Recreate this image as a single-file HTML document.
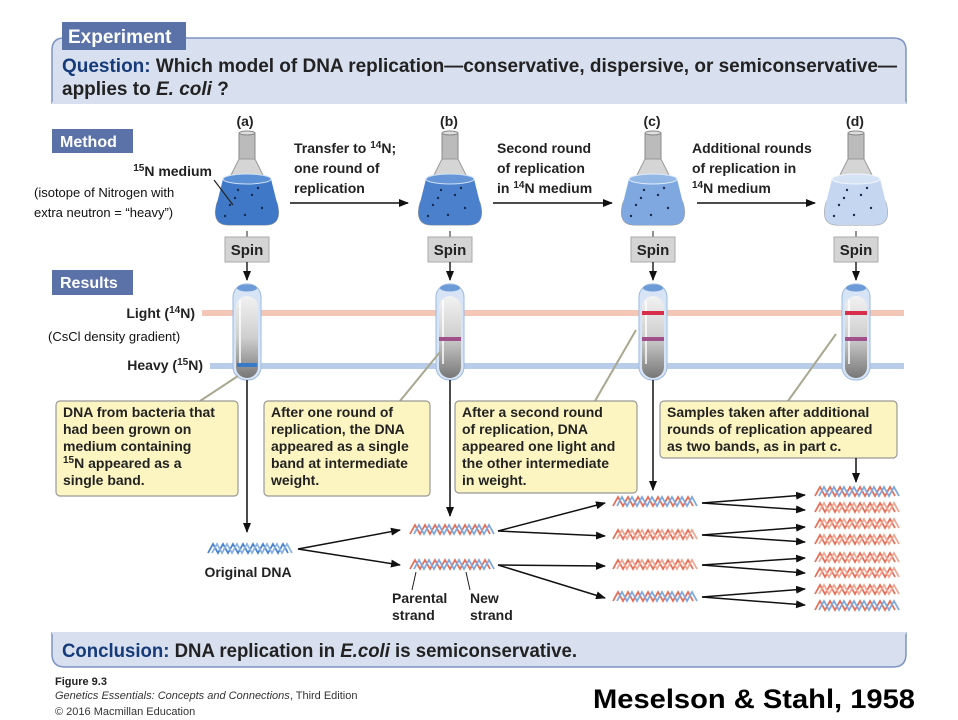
<!DOCTYPE html>
<html><head><meta charset="utf-8"><style>
body{margin:0;background:#fff;width:958px;height:720px;overflow:hidden}
svg{display:block}
text{font-family:"Liberation Sans",sans-serif}
.b{font-weight:bold;font-size:14px;fill:#222}
</style></head><body>
<svg width="958" height="720" viewBox="0 0 958 720" xmlns="http://www.w3.org/2000/svg">
<defs>
<marker id="ar" markerWidth="10" markerHeight="8" refX="9" refY="4" orient="auto" markerUnits="userSpaceOnUse"><path d="M0,0 L10,4 L0,8z" fill="#111"/></marker>
<g id="zz"><path d="M0,10 l5,-9 l5,9 l5,-9 l5,9 l5,-9 l5,9 l5,-9 l5,9 l5,-9 l5,9 l5,-9 l5,9 l5,-9 l5,9 l5,-9 l5,9" fill="none" stroke-width="1.8"/></g>
<g id="dB"><use href="#zz" stroke="#4a84cc"/><use href="#zz" x="4" stroke="#8db3e2"/></g>
<g id="dH"><use href="#zz" stroke="#e4705a"/><use href="#zz" x="4" stroke="#7fa9de"/></g>
<g id="dL"><use href="#zz" stroke="#e4705a"/><use href="#zz" x="4" stroke="#f0a894"/></g>
<linearGradient id="tg" x1="0" y1="0" x2="0" y2="1"><stop offset="0" stop-color="#f2f2f2"/><stop offset="0.5" stop-color="#cfcfcf"/><stop offset="1" stop-color="#777"/></linearGradient>
<g id="flask">
<rect x="-8" y="0" width="16" height="26" fill="#bbb" stroke="#888"/>
<ellipse cx="0" cy="0" rx="8" ry="2" fill="#ddd" stroke="#888"/>
<path d="M-8,26 L-30,70 Q-36,92 -18,92 L18,92 Q36,92 30,70 L8,26z" fill="#d5d5d5" stroke="#999"/>
</g>
<g id="tube">
<rect x="-14" y="0" width="28" height="96" rx="13" fill="#d6e4f5" stroke="#9bb8dd"/>
<rect x="-11" y="12" width="22" height="82" rx="11" fill="url(#tg)"/>
<ellipse cx="0" cy="4" rx="10" ry="3.5" fill="#6d9bd8"/>
<line x1="-7" y1="16" x2="-7" y2="80" stroke="#fff" stroke-width="1.5"/>
</g>
<path id="liq" d="M-24,46 L-30,70 Q-36,92 -18,92 L18,92 Q36,92 30,70 L24,46z"/>
</defs>

<!-- header -->
<path d="M52,103 L52,50 Q52,38 64,38 L893,38 Q906,38 906,50 L906,103z" fill="#d8dfef" stroke="#7d94c4" stroke-width="1.5"/>
<line x1="52" y1="103" x2="906" y2="103" stroke="#d8dfef" stroke-width="2"/>
<rect x="62" y="22" width="124" height="28" fill="#5b72a8"/>
<text x="68" y="43" font-size="19" font-weight="bold" fill="#fff">Experiment</text>
<text x="62" y="72" font-size="19" font-weight="bold" fill="#222" textLength="835" lengthAdjust="spacingAndGlyphs"><tspan fill="#163b7a">Question:</tspan> Which model of DNA replication—conservative, dispersive, or semiconservative—</text>
<text x="62" y="95" font-size="19" font-weight="bold" fill="#222">applies to <tspan font-style="italic">E. coli</tspan> ?</text>

<rect x="52" y="129" width="81" height="24" fill="#5b72a8"/>
<text x="60" y="147" font-size="16" font-weight="bold" fill="#fff">Method</text>
<rect x="52" y="270" width="81" height="25" fill="#5b72a8"/>
<text x="60" y="288" font-size="16" font-weight="bold" fill="#fff">Results</text>

<text x="245" y="126" class="b" text-anchor="middle">(a)</text>
<text x="449" y="126" class="b" text-anchor="middle">(b)</text>
<text x="652" y="126" class="b" text-anchor="middle">(c)</text>
<text x="855" y="126" class="b" text-anchor="middle">(d)</text>

<!-- flasks -->
<g transform="translate(247,133)"><use href="#flask"/><use href="#liq" fill="#3f78c6"/><ellipse cx="0" cy="46" rx="24" ry="5" fill="#5b8fd6" stroke="#cfe0f5"/></g>
<g transform="translate(450,133)"><use href="#flask"/><use href="#liq" fill="#4a80cc"/><ellipse cx="0" cy="46" rx="24" ry="5" fill="#6696d8" stroke="#cfe0f5"/></g>
<g transform="translate(653,133)"><use href="#flask"/><use href="#liq" fill="#7fa7e0"/><ellipse cx="0" cy="46" rx="24" ry="5" fill="#94b8e6" stroke="#e0ecfa"/></g>
<g transform="translate(856,133)"><use href="#flask"/><use href="#liq" fill="#c4d6f0"/><ellipse cx="0" cy="46" rx="24" ry="5" fill="#d6e3f5" stroke="#f0f5fc"/></g>
<g fill="#1a2a4a">
<circle cx="238" cy="190" r="1.2"/><circle cx="252" cy="195" r="1.2"/><circle cx="230" cy="205" r="1.2"/><circle cx="262" cy="208" r="1.2"/><circle cx="245" cy="215" r="1.2"/><circle cx="225" cy="216" r="1.2"/><circle cx="258" cy="188" r="1.2"/><circle cx="235" cy="198" r="1.2"/>
<circle cx="441" cy="190" r="1.2"/><circle cx="455" cy="195" r="1.2"/><circle cx="433" cy="205" r="1.2"/><circle cx="465" cy="208" r="1.2"/><circle cx="448" cy="215" r="1.2"/><circle cx="428" cy="216" r="1.2"/><circle cx="461" cy="188" r="1.2"/><circle cx="438" cy="198" r="1.2"/>
<circle cx="644" cy="190" r="1.2"/><circle cx="658" cy="195" r="1.2"/><circle cx="636" cy="205" r="1.2"/><circle cx="668" cy="208" r="1.2"/><circle cx="651" cy="215" r="1.2"/><circle cx="631" cy="216" r="1.2"/><circle cx="664" cy="188" r="1.2"/><circle cx="641" cy="198" r="1.2"/>
<circle cx="847" cy="190" r="1.2"/><circle cx="861" cy="195" r="1.2"/><circle cx="839" cy="205" r="1.2"/><circle cx="871" cy="208" r="1.2"/><circle cx="854" cy="215" r="1.2"/><circle cx="834" cy="216" r="1.2"/><circle cx="867" cy="188" r="1.2"/><circle cx="844" cy="198" r="1.2"/>
</g>

<text x="212" y="176" class="b" text-anchor="end"><tspan font-size="10" dy="-5">15</tspan><tspan dy="5">N medium</tspan></text>
<line x1="214" y1="180" x2="233" y2="205" stroke="#222" stroke-width="1.2"/>
<text x="34" y="197" font-size="13" fill="#111">(isotope of Nitrogen with</text>
<text x="34" y="217" font-size="13" fill="#111">extra neutron = “heavy”)</text>

<text x="294" y="153" class="b"><tspan>Transfer to </tspan><tspan font-size="10" dy="-5">14</tspan><tspan dy="5">N;</tspan></text>
<text x="294" y="173" class="b">one round of</text>
<text x="294" y="193" class="b">replication</text>
<line x1="290" y1="203" x2="408" y2="203" stroke="#111" stroke-width="1.5" marker-end="url(#ar)"/>
<text x="497" y="153" class="b">Second round</text>
<text x="497" y="173" class="b">of replication</text>
<text x="497" y="193" class="b">in <tspan font-size="10" dy="-5">14</tspan><tspan dy="5">N medium</tspan></text>
<line x1="493" y1="203" x2="612" y2="203" stroke="#111" stroke-width="1.5" marker-end="url(#ar)"/>
<text x="692" y="153" class="b">Additional rounds</text>
<text x="692" y="173" class="b">of replication in</text>
<text x="692" y="193" class="b"><tspan font-size="10" dy="-5">14</tspan><tspan dy="5">N medium</tspan></text>
<line x1="697" y1="203" x2="815" y2="203" stroke="#111" stroke-width="1.5" marker-end="url(#ar)"/>

<g font-size="15" font-weight="bold" fill="#222" text-anchor="middle">
<line x1="247" y1="231" x2="247" y2="237" stroke="#222"/><rect x="225" y="237" width="44" height="25" fill="#d4d4d4" stroke="#aaa"/><text x="247" y="255">Spin</text><line x1="247" y1="262" x2="247" y2="280" stroke="#222" stroke-width="1.5" marker-end="url(#ar)"/>
<line x1="450" y1="231" x2="450" y2="237" stroke="#222"/><rect x="428" y="237" width="44" height="25" fill="#d4d4d4" stroke="#aaa"/><text x="450" y="255">Spin</text><line x1="450" y1="262" x2="450" y2="280" stroke="#222" stroke-width="1.5" marker-end="url(#ar)"/>
<line x1="653" y1="231" x2="653" y2="237" stroke="#222"/><rect x="631" y="237" width="44" height="25" fill="#d4d4d4" stroke="#aaa"/><text x="653" y="255">Spin</text><line x1="653" y1="262" x2="653" y2="280" stroke="#222" stroke-width="1.5" marker-end="url(#ar)"/>
<line x1="856" y1="231" x2="856" y2="237" stroke="#222"/><rect x="834" y="237" width="44" height="25" fill="#d4d4d4" stroke="#aaa"/><text x="856" y="255">Spin</text><line x1="856" y1="262" x2="856" y2="280" stroke="#222" stroke-width="1.5" marker-end="url(#ar)"/>
</g>

<rect x="202" y="310" width="702" height="6" fill="#f4c6b8"/>
<rect x="210" y="363" width="694" height="6" fill="#b9cdea"/>
<text x="195" y="318" class="b" text-anchor="end"><tspan>Light (</tspan><tspan font-size="10" dy="-5">14</tspan><tspan dy="5">N)</tspan></text>
<text x="48" y="341" font-size="13" fill="#111">(CsCl density gradient)</text>
<text x="203" y="370" class="b" text-anchor="end"><tspan>Heavy (</tspan><tspan font-size="10" dy="-5">15</tspan><tspan dy="5">N)</tspan></text>

<g transform="translate(247,284)"><use href="#tube"/></g>
<g transform="translate(450,284)"><use href="#tube"/></g>
<g transform="translate(653,284)"><use href="#tube"/></g>
<g transform="translate(856,284)"><use href="#tube"/></g>
<rect x="237" y="363" width="20" height="4" fill="#3a78c8"/>
<rect x="439" y="337" width="22" height="4" fill="#a0508a"/>
<rect x="642" y="311" width="22" height="4" fill="#d8304a"/><rect x="642" y="337" width="22" height="4" fill="#a0508a"/>
<rect x="845" y="311" width="22" height="4" fill="#d8304a"/><rect x="845" y="337" width="22" height="4" fill="#a0508a"/>

<g stroke="#a8a890" stroke-width="2">
<line x1="238" y1="376" x2="200" y2="401"/>
<line x1="440" y1="352" x2="400" y2="401"/>
<line x1="636" y1="330" x2="595" y2="401"/>
<line x1="836" y1="334" x2="788" y2="401"/>
</g>

<g fill="#fcf5c2" stroke="#999" stroke-width="1.2">
<rect x="56" y="401" width="182" height="95" rx="4"/>
<rect x="264" y="401" width="166" height="95" rx="4"/>
<rect x="455" y="401" width="182" height="92" rx="4"/>
<rect x="660" y="401" width="237" height="57" rx="4"/>
</g>
<g class="b">
<text x="63" y="417" class="b">DNA from bacteria that</text>
<text x="63" y="434" class="b">had been grown on</text>
<text x="63" y="451" class="b">medium containing</text>
<text x="63" y="468" class="b"><tspan font-size="10" dy="-5">15</tspan><tspan dy="5">N appeared as a</tspan></text>
<text x="63" y="485" class="b">single band.</text>
<text x="271" y="417" class="b">After one round of</text>
<text x="271" y="434" class="b">replication, the DNA</text>
<text x="271" y="451" class="b">appeared as a single</text>
<text x="271" y="468" class="b">band at intermediate</text>
<text x="271" y="485" class="b">weight.</text>
<text x="462" y="417" class="b">After a second round</text>
<text x="462" y="434" class="b">of replication, DNA</text>
<text x="462" y="451" class="b">appeared one light and</text>
<text x="462" y="468" class="b">the other intermediate</text>
<text x="462" y="485" class="b">in weight.</text>
<text x="667" y="417" class="b">Samples taken after additional</text>
<text x="667" y="434" class="b">rounds of replication appeared</text>
<text x="667" y="451" class="b">as two bands, as in part c.</text>
</g>

<g stroke="#111" stroke-width="1.5" marker-end="url(#ar)">
<line x1="247" y1="380" x2="247" y2="532"/>
<line x1="450" y1="380" x2="450" y2="516"/>
<line x1="653" y1="380" x2="653" y2="490"/>
<line x1="856" y1="458" x2="856" y2="482"/>
</g>

<use href="#dB" x="208" y="543"/>
<text x="248" y="577" class="b" text-anchor="middle">Original DNA</text>
<use href="#dH" x="410" y="524"/>
<use href="#dH" x="410" y="559"/>
<line x1="416" y1="572" x2="412" y2="590" stroke="#222"/>
<line x1="466" y1="572" x2="470" y2="590" stroke="#222"/>
<text x="392" y="603" class="b">Parental</text><text x="392" y="620" class="b">strand</text>
<text x="470" y="603" class="b">New</text><text x="470" y="620" class="b">strand</text>
<use href="#dH" x="613" y="496"/>
<use href="#dL" x="613" y="529"/>
<use href="#dL" x="613" y="559"/>
<use href="#dH" x="613" y="591"/>
<use href="#dH" x="815" y="486"/>
<use href="#dL" x="815" y="502"/>
<use href="#dL" x="815" y="518"/>
<use href="#dL" x="815" y="534"/>
<use href="#dL" x="815" y="552"/>
<use href="#dL" x="815" y="567"/>
<use href="#dL" x="815" y="584"/>
<use href="#dH" x="815" y="600"/>

<g stroke="#111" stroke-width="1.5" marker-end="url(#ar)" fill="none">
<line x1="298" y1="549" x2="400" y2="530"/><line x1="298" y1="549" x2="400" y2="565"/>
<line x1="498" y1="531" x2="605" y2="503"/><line x1="498" y1="531" x2="605" y2="536"/>
<line x1="498" y1="565" x2="605" y2="566"/><line x1="498" y1="565" x2="605" y2="598"/>
<line x1="702" y1="503" x2="805" y2="495"/><line x1="702" y1="503" x2="805" y2="510"/>
<line x1="702" y1="535" x2="805" y2="527"/><line x1="702" y1="535" x2="805" y2="542"/>
<line x1="702" y1="565" x2="805" y2="558"/><line x1="702" y1="565" x2="805" y2="573"/>
<line x1="702" y1="597" x2="805" y2="589"/><line x1="702" y1="597" x2="805" y2="605"/>
</g>

<path d="M52,633 L906,633 L906,654 Q906,667 893,667 L65,667 Q52,667 52,654z" fill="#d8dfef" stroke="#7d94c4" stroke-width="1.5"/>
<line x1="52" y1="633" x2="906" y2="633" stroke="#d8dfef" stroke-width="2"/>
<text x="62" y="657" font-size="19" font-weight="bold" fill="#222" textLength="515" lengthAdjust="spacingAndGlyphs"><tspan fill="#163b7a">Conclusion:</tspan> DNA replication in <tspan font-style="italic">E.coli</tspan> is semiconservative.</text>

<text x="55" y="685" font-size="11" font-weight="bold" fill="#222">Figure 9.3</text>
<text x="55" y="699" font-size="11" fill="#333"><tspan font-style="italic">Genetics Essentials: Concepts and Connections</tspan>, Third Edition</text>
<text x="55" y="715" font-size="11" fill="#333">© 2016 Macmillan Education</text>
<text x="593" y="708" font-size="27" font-weight="bold" fill="#000" textLength="322" lengthAdjust="spacingAndGlyphs">Meselson &amp; Stahl, 1958</text>
</svg>
</body></html>
